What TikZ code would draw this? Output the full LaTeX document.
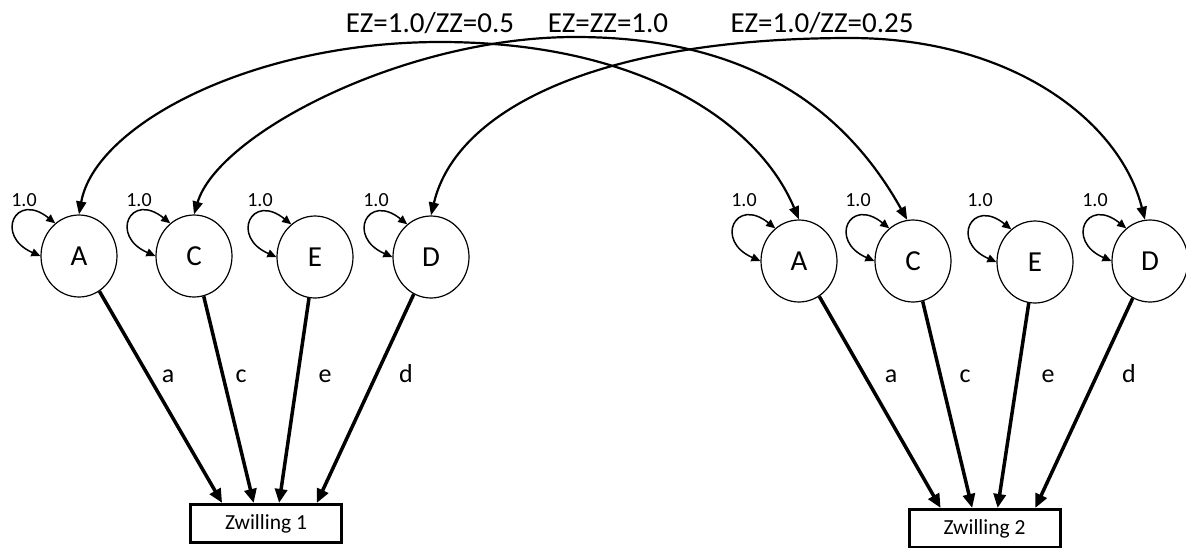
\documentclass[tikz,border=0pt]{standalone}
\usepackage{fontspec}
\setmainfont{Carlito}
\usetikzlibrary{arrows.meta,shapes.geometric,calc}
\begin{document}
\begin{tikzpicture}[x=1pt,y=-1pt,
  lat/.style={ellipse,draw,line width=1.2pt,minimum width=76pt,minimum height=82pt,inner sep=0pt,font=\fontsize{29}{29}\selectfont},
  obs/.style={rectangle,draw,line width=3pt,minimum width=151pt,minimum height=38pt,inner sep=0pt,font=\fontsize{21.5}{21.5}\selectfont},
  load/.style={line width=3.5pt,-{Triangle[length=14pt,width=12pt]}},
  covar/.style={line width=2.2pt,{Triangle[length=13pt,width=10pt]}-{Triangle[length=13pt,width=10pt]}},
  varloop/.style={line width=1.5pt,{Triangle[length=9pt,width=8pt]}-{Triangle[length=9pt,width=8pt]}},
  coef/.style={font=\fontsize{26}{26}\selectfont,anchor=base},
  one/.style={font=\fontsize{20}{20}\selectfont,anchor=base},
  toplab/.style={font=\fontsize{29}{29}\selectfont,anchor=base},
]
\useasboundingbox (0,0) rectangle (1186,547);
\coordinate (row) at (0,206);

% latent variables
\node[lat] (A1) at (79,256) {A};
\node[lat] (C1) at (194,256) {C};
\node[lat] (E1) at (315,257) {E};
\node[lat] (D1) at (431,257) {D};
\node[lat] (A2) at (799,261) {A};
\node[lat] (C2) at (913,261) {C};
\node[lat] (E2) at (1035,262) {E};
\node[lat] (D2) at (1150,261) {D};

% observed
\node[obs] (Z1) at (266,523.5) {Zwilling 1};
\node[obs] (Z2) at (984.5,528.5) {Zwilling 2};

% variance loops
\foreach \n in {A1,C1,E1,D1,A2,C2,E2,D2}{
  \draw[varloop] (\n.180) .. controls ($(\n.180)+(-46,-20)$) and ($(\n.126)+(-40,-32)$) .. (\n.126);
  \node[one] (one\n) at ($(\n.center |- row)+(-55,0)$) {1.0};
}

% paths to twins
\foreach \t in {1,2}{
  \draw[load] (A\t) -- ($(Z\t.north west)!0.215!(Z\t.north east)$);
  \draw[load] (C\t) -- ($(Z\t.north west)!0.42!(Z\t.north east)$);
  \draw[load] (E\t) -- ($(Z\t.north west)!0.585!(Z\t.north east)$);
  \draw[load] (D\t) -- ($(Z\t.north west)!0.83!(Z\t.north east)$);
}

% path labels
\node[coef] (la1) at (168,382) {a};
\node[coef] (lc1) at (241,382) {c};
\node[coef] (le1) at (325,382) {e};
\node[coef] (ld1) at (406,382) {d};
\node[coef] (la2) at (891,382) {a};
\node[coef] (lc2) at (965,382) {c};
\node[coef] (le2) at (1048,382) {e};
\node[coef] (ld2) at (1129,382) {d};

% covariances between twins
\coordinate (pA) at (440,42);
\coordinate (pC) at (575,37);
\coordinate (pD) at (850,38);
\draw[covar] (A1.north) .. controls (95,125) and (252,42) .. (pA) .. controls (640,42) and (758,122) .. (A2.north);
\draw[covar] (C1.north) .. controls (218,134) and (404,37) .. (pC) .. controls (757,37) and (849,116) .. (C2.98);
\draw[covar] (D1.north) .. controls (456,109) and (599,38) .. (pD) .. controls (1012,38) and (1120,121) .. (D2.97);

\node[toplab] (tA) at (430,32) {EZ=1.0/ZZ=0.5};
\node[toplab] (tC) at (608,32) {EZ=ZZ=1.0};
\node[toplab] (tD) at (822,32) {EZ=1.0/ZZ=0.25};
\end{tikzpicture}
\end{document}
